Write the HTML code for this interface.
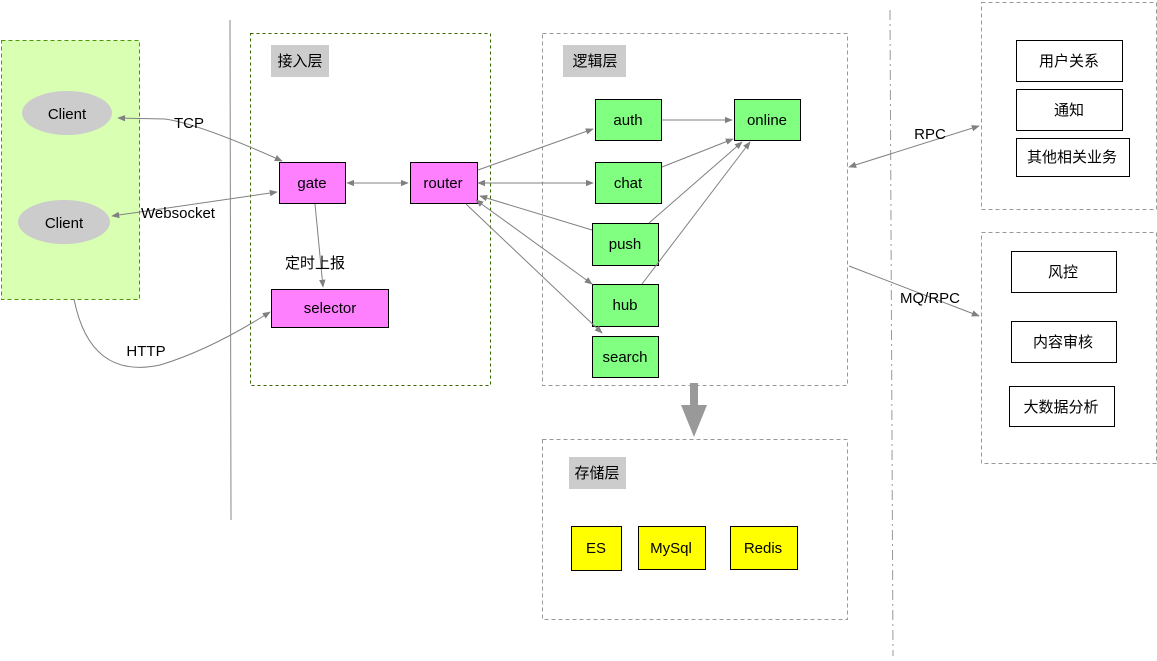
<!DOCTYPE html>
<html><head><meta charset="utf-8"><style>
body{margin:0;background:#fff;width:1157px;height:656px;overflow:hidden}
text{font-family:"Liberation Sans","Noto Sans CJK SC",sans-serif;font-size:15px;fill:#000}
</style></head><body>
<svg width="1157" height="656" viewBox="0 0 1157 656" xmlns="http://www.w3.org/2000/svg">
<defs>
<marker id="a" viewBox="0 0 10 10" refX="9" refY="5" markerWidth="8" markerHeight="8" orient="auto-start-reverse" markerUnits="userSpaceOnUse"><path d="M0,1 L10,5 L0,9 z" fill="#808080"/></marker>
</defs>
<g stroke-width="1">
<rect x="1.5" y="40.5" width="138" height="259" fill="#d9ffb3" stroke="#4d9900" stroke-dasharray="4 3"/>
<ellipse cx="67" cy="113" rx="45" ry="22" fill="#cccccc"/>
<ellipse cx="64" cy="222" rx="46" ry="22" fill="#cccccc"/>
<line x1="230" y1="20" x2="231" y2="520" stroke="#888"/>
<rect x="250.5" y="33.5" width="240" height="352" fill="none" stroke="#336600" stroke-dasharray="3 3"/>
<rect x="271" y="45" width="58" height="32" fill="#cccccc"/>
<rect x="542.5" y="33.5" width="305" height="352" fill="none" stroke="#999" stroke-dasharray="4 3"/>
<rect x="563" y="45" width="63" height="32" fill="#cccccc"/>
<rect x="542.5" y="439.5" width="305" height="180" fill="none" stroke="#999" stroke-dasharray="4 3"/>
<rect x="569" y="457" width="57" height="32" fill="#cccccc"/>
<line x1="890" y1="10" x2="893" y2="656" stroke="#999" stroke-dasharray="10 4 2 4"/>
<rect x="981.5" y="2.5" width="175" height="207" fill="none" stroke="#999" stroke-dasharray="4 3"/>
<rect x="981.5" y="232.5" width="175" height="231" fill="none" stroke="#999" stroke-dasharray="4 3"/>
<g fill="#ff80ff" stroke="#000">
<rect x="279.5" y="162.5" width="66" height="41"/>
<rect x="410.5" y="162.5" width="67" height="41"/>
<rect x="271.5" y="289.5" width="117" height="38"/>
</g>
<g fill="#80ff80" stroke="#000">
<rect x="595.5" y="99.5" width="66" height="41"/>
<rect x="734.5" y="99.5" width="66" height="41"/>
<rect x="595.5" y="162.5" width="66" height="41"/>
<rect x="592.5" y="223.5" width="66" height="42"/>
<rect x="592.5" y="284.5" width="66" height="42"/>
<rect x="592.5" y="336.5" width="66" height="41"/>
</g>
<g fill="#ffff00" stroke="#000">
<rect x="571.5" y="526.5" width="50" height="44"/>
<rect x="638.5" y="526.5" width="67" height="43"/>
<rect x="730.5" y="526.5" width="67" height="43"/>
</g>
<g fill="#fff" stroke="#000">
<rect x="1016.5" y="40.5" width="106" height="41"/>
<rect x="1016.5" y="89.5" width="106" height="41"/>
<rect x="1016.5" y="138.5" width="113" height="38"/>
<rect x="1011.5" y="251.5" width="105" height="41"/>
<rect x="1011.5" y="321.5" width="105" height="41"/>
<rect x="1009.5" y="386.5" width="105" height="40"/>
</g>
<g stroke="#808080" fill="none">
<path d="M118,118 L165,119 Q200,124 282,161" marker-start="url(#a)" marker-end="url(#a)"/>
<path d="M112,216 L277,192" marker-start="url(#a)" marker-end="url(#a)"/>
<path d="M74,299 Q90,380 160,365 Q210,350 270,312" marker-end="url(#a)"/>
<path d="M347,183 L408,183" marker-start="url(#a)" marker-end="url(#a)"/>
<path d="M315,204 L323,287" marker-end="url(#a)"/>
<path d="M478,170 L593,129" marker-end="url(#a)"/>
<path d="M478,183 L593,183" marker-start="url(#a)" marker-end="url(#a)"/>
<path d="M480,196 L592,230" marker-start="url(#a)"/>
<path d="M476,200 L592,284" marker-start="url(#a)" marker-end="url(#a)"/>
<path d="M466,204 L602,333" marker-end="url(#a)"/>
<path d="M662,120 L732,120" marker-end="url(#a)"/>
<path d="M662,167 L733,139" marker-end="url(#a)"/>
<path d="M649,223 L742,142" marker-end="url(#a)"/>
<path d="M642,284 L750,142" marker-end="url(#a)"/>
<path d="M849,167 L979,126" marker-start="url(#a)" marker-end="url(#a)"/>
<path d="M849,266 L979,316" marker-end="url(#a)"/>
</g>
<path d="M690,383 L698,383 L698,405 L707,405 L694,437 L681,405 L690,405 z" fill="#999"/>
</g>
<g text-anchor="middle">
<text x="67" y="119">Client</text>
<text x="64" y="228">Client</text>
<text x="189" y="128">TCP</text>
<text x="178" y="218">Websocket</text>
<text x="146" y="356">HTTP</text>
<text x="315" y="268">定时上报</text>
<text x="300" y="66">接入层</text>
<text x="595" y="66">逻辑层</text>
<text x="597" y="478">存储层</text>
<text x="312" y="188">gate</text>
<text x="443" y="188">router</text>
<text x="330" y="313">selector</text>
<text x="628" y="125">auth</text>
<text x="767" y="125">online</text>
<text x="628" y="188">chat</text>
<text x="625" y="249">push</text>
<text x="625" y="310">hub</text>
<text x="625" y="362">search</text>
<text x="596" y="553">ES</text>
<text x="671" y="553">MySql</text>
<text x="763" y="553">Redis</text>
<text x="930" y="139">RPC</text>
<text x="930" y="303">MQ/RPC</text>
<text x="1069" y="66">用户关系</text>
<text x="1069" y="115">通知</text>
<text x="1072" y="162">其他相关业务</text>
<text x="1063" y="277">风控</text>
<text x="1063" y="347">内容审核</text>
<text x="1061" y="412">大数据分析</text>
</g>
</svg>
</body></html>
